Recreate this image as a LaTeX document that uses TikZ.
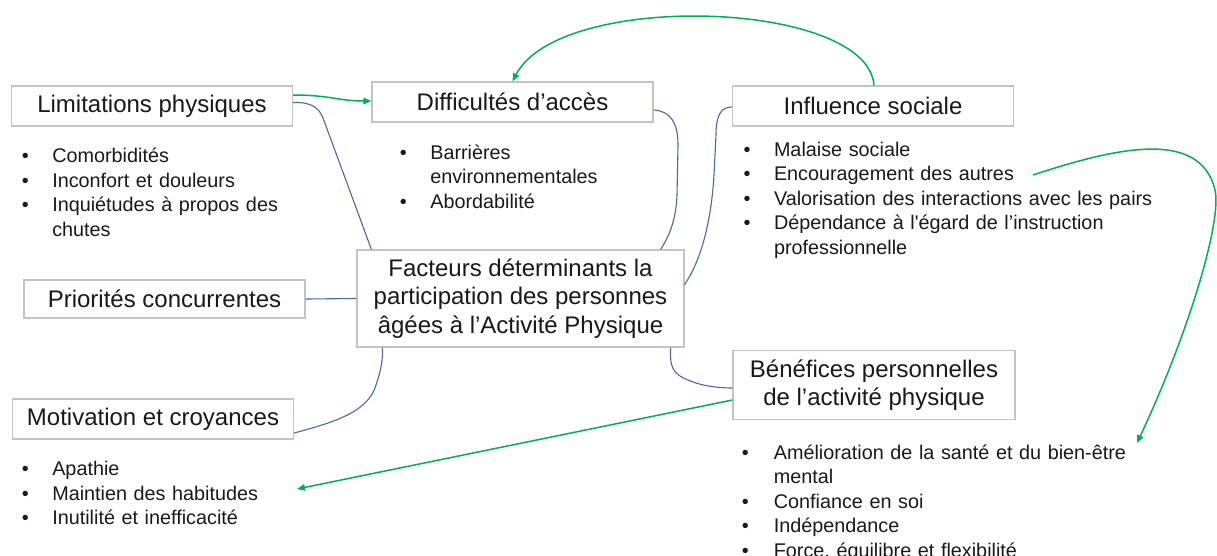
\documentclass[tikz,border=0pt]{standalone}
\usepackage{fontspec}
\setmainfont{Liberation Sans}
\newfontfamily\bulfont[WordSpace=1.5]{Liberation Sans}
\usetikzlibrary{arrows.meta}
\definecolor{boxgray}{RGB}{195,195,195}
\definecolor{txt}{RGB}{25,25,25}
\definecolor{linkblue}{RGB}{72,104,170}
\definecolor{linkgreen}{RGB}{0,176,80}
\newcommand{\bitem}[2][30.5pt]{\par\noindent\makebox[#1][l]{\textbullet}#2}
\newcommand{\bcont}[2][30.5pt]{\par\noindent\hspace*{#1}#2}
\begin{document}
\begin{tikzpicture}[x=1pt,y=-1pt,
  box/.style={draw=boxgray,line width=1.2pt,fill=white,text=txt,
    minimum width=281pt,inner sep=0pt,align=center,
    font=\fontsize{24}{28.5}\selectfont},
  blist/.style={anchor=north west,inner sep=0pt,text width=480pt,align=left,text=txt,
    font=\bulfont\fontsize{19.8}{24.5}\selectfont,
    execute at begin node={\lineskiplimit=-30pt\lineskip=0pt}},
  blueline/.style={draw=linkblue,line width=1.1pt},
  greenarrow/.style={draw=linkgreen,line width=1.5pt,-{Triangle[length=8pt,width=6.5pt]}}
]
\useasboundingbox (0,0) rectangle (1217,555);

% boxes
\node[box,minimum height=40pt] (lim) at (152,106) {Limitations physiques};
\node[box,minimum height=40pt] (dif) at (512.5,102) {Difficultés d’accès};
\node[box,minimum height=40pt] (inf) at (873,106) {Influence sociale};
\node[box,minimum height=38pt] (pri) at (164.5,299) {Priorités concurrentes};
\node[box,minimum width=327pt,minimum height=97pt] (fac) at (520.5,298.5)
  {Facteurs déterminants la\\participation des personnes\\âgées à l’Activité Physique};
\node[box,minimum height=40pt] (mot) at (153,419) {Motivation et croyances};
\node[box,minimum width=282pt,minimum height=68.5pt] (ben) at (874,385)
  {Bénéfices personnelles\\de l’activité physique};

% bullet lists
\node[blist] (limlist) at (21.6,138) {%
  \bitem{\rule{0pt}{18pt}Comorbidités}
  \bitem{Inconfort et douleurs}
  \bitem{Inquiétudes à propos des}
  \bcont{chutes}};
\node[blist] (diflist) at (399.6,134.5) {%
  \bitem{\rule{0pt}{18pt}Barrières}
  \bcont{environnementales}
  \bitem{Abordabilité}};
\node[blist] (inflist) at (743.3,131.5) {%
  \bitem{\rule{0pt}{18pt}Malaise sociale}
  \bitem{Encouragement des autres}
  \bitem{Valorisation des interactions avec les pairs}
  \bitem{Dépendance à l'égard de l’instruction}
  \bcont{professionnelle}};
\node[blist] (motlist) at (21.6,451) {%
  \bitem{\rule{0pt}{18pt}Apathie}
  \bitem{Maintien des habitudes}
  \bitem{Inutilité et inefficacité}};
\node[blist] (benlist) at (741.6,434.5) {%
  \bitem[32pt]{\rule{0pt}{18pt}Amélioration de la santé et du bien-être}
  \bcont[32pt]{mental}
  \bitem[32pt]{Confiance en soi}
  \bitem[32pt]{Indépendance}
  \bitem[32pt]{Force, équilibre et flexibilité}};

% coordinates for free ends of green arrows
\coordinate (encEnd) at (1033,175);
\coordinate (amelEnd) at (1137,443);
\coordinate (habEnd) at (297,489);

% blue connectors
\draw[blueline] ([yshift=3.5pt]lim.east) .. controls (312,102) and (319,108) .. (323,118)
  -- ([xshift=15pt]fac.north west);
\draw[blueline] ([yshift=-8pt]dif.east) .. controls (670,111) and (678,122) .. (678,145)
  -- (677,195) .. controls (676,222) and (668,238) .. ([xshift=-24pt]fac.north east);
\draw[blueline] ([yshift=-1pt]inf.west) .. controls (721,107) and (716,115) .. (716,135)
  -- (714,175) .. controls (711,225) and (700,262) .. ([yshift=14pt]fac.east);
\draw[blueline] (pri.east) -- (fac.west);
\draw[blueline] ([yshift=-14pt]mot.east) .. controls (335,422) and (368,412) .. (376,385)
  .. controls (381,370) and (383,360) .. ([xshift=26pt]fac.south west);
\draw[blueline] ([xshift=-14pt]fac.south east) .. controls (670,362) and (671,370) .. (680,376)
  .. controls (695,385) and (715,388) .. ([yshift=-3pt]ben.west);

% green arrows
\draw[greenarrow] ([yshift=11pt]lim.east) .. controls (330,95) and (338,101) .. ([yshift=1pt]dif.west);
\draw[greenarrow] ([xshift=1pt]inf.north) .. controls (868,0) and (560,-10) .. (dif.north);
\draw[greenarrow] (encEnd) .. controls (1115,148) and (1200,128) .. (1215,190)
  .. controls (1222,220) and (1190,330) .. (amelEnd);
\draw[greenarrow] ([yshift=-15pt]ben.west) -- (habEnd);
\end{tikzpicture}
\end{document}
